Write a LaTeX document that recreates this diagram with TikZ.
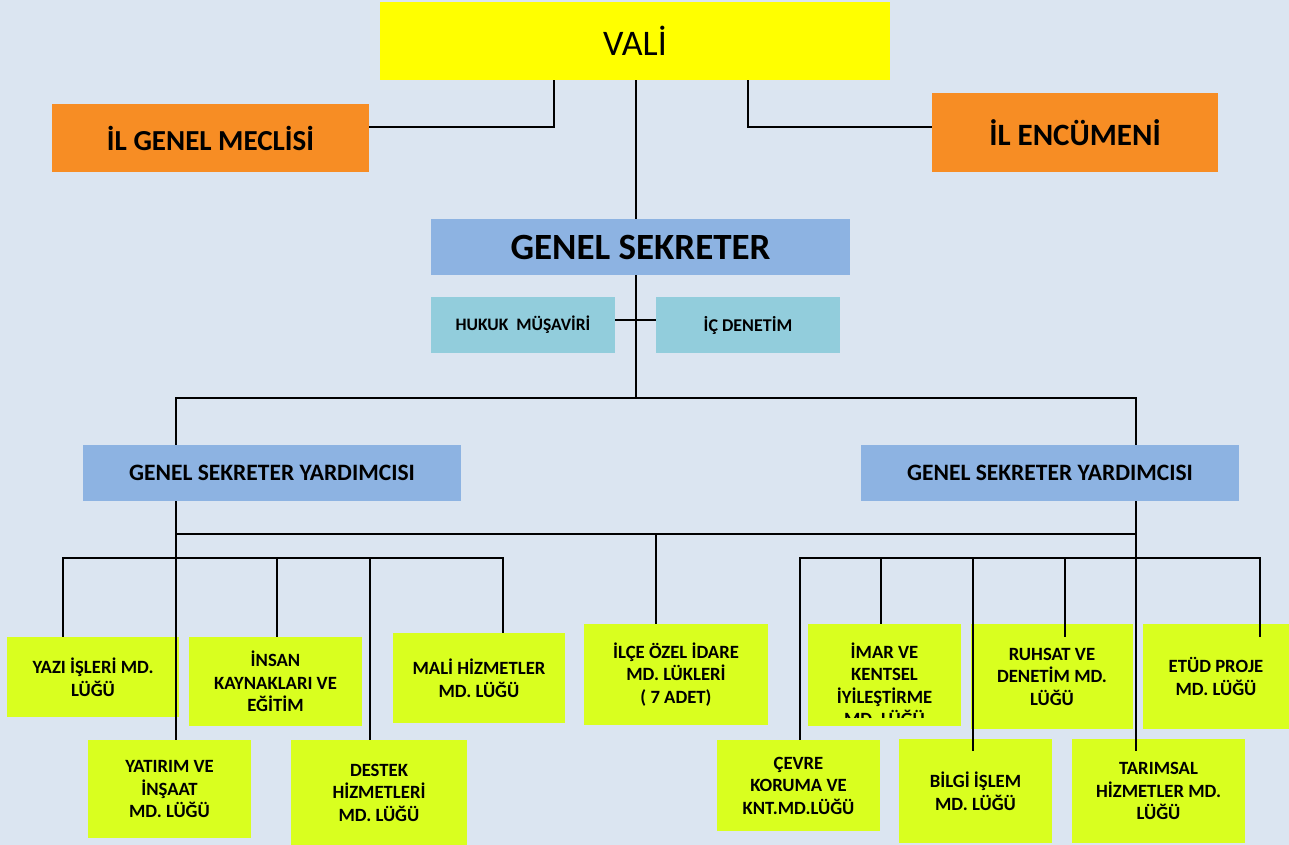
\documentclass[tikz,border=0pt]{standalone}
\usepackage{fontspec}
\setmainfont{Carlito}
\definecolor{bgc}{HTML}{DBE5F1}
\definecolor{yel}{HTML}{FFFF00}
\definecolor{ora}{HTML}{F78D24}
\definecolor{blu}{HTML}{8DB3E2}
\definecolor{aqu}{HTML}{92CDDC}
\definecolor{lim}{HTML}{D9FF1F}
\begin{document}
\begin{tikzpicture}[x=1pt,y=-1pt,
  box/.style={inner sep=0pt, align=center, text=black},
  gbox/.style={box, fill=lim, font=\bfseries\fontsize{18.7}{22.5}\selectfont},
  conn/.style={draw=black, line width=2pt}]
\useasboundingbox (0,0) rectangle (1289,845);
\fill[bgc] (0,0) rectangle (1289,845);
% top level
\node[box, fill=yel, minimum width=510pt, minimum height=78pt, font=\fontsize{36}{40}\selectfont] (vali) at (635,41) {VALİ};
\node[box, fill=ora, minimum width=317pt, minimum height=68pt, font=\bfseries\fontsize{29}{32}\selectfont] (meclis) at (210.5,138) {İL GENEL MECLİSİ};
\node[box, fill=ora, minimum width=286pt, minimum height=79pt, font=\bfseries\fontsize{31}{34}\selectfont] (encumen) at (1075,132.5) {İL ENCÜMENİ};
\node[box, fill=blu, minimum width=419pt, minimum height=56pt, font=\bfseries\fontsize{37}{40}\selectfont] (gs) at (640.5,247) {GENEL SEKRETER};
\node[box, fill=aqu, minimum width=184pt, minimum height=56pt, font=\bfseries\fontsize{17.5}{20}\selectfont] (hukuk) at (523,325) {HUKUK~ MÜŞAVİRİ};
\node[box, fill=aqu, minimum width=184pt, minimum height=56pt, font=\bfseries\fontsize{18}{20}\selectfont] (icden) at (748,325) {İÇ DENETİM};
\node[box, fill=blu, minimum width=378pt, minimum height=56pt, font=\bfseries\fontsize{23.5}{26}\selectfont] (gsy1) at (272,473) {GENEL SEKRETER YARDIMCISI};
\node[box, fill=blu, minimum width=378pt, minimum height=56pt, font=\bfseries\fontsize{23.5}{26}\selectfont] (gsy2) at (1050,473) {GENEL SEKRETER YARDIMCISI};
% left units
\node[gbox, minimum width=172pt, minimum height=80pt] (yazi) at (93,677) {YAZI İŞLERİ MD.\\LÜĞÜ};
\node[gbox, minimum width=173pt, minimum height=89pt] (insan) at (275.5,681.5) {İNSAN\\KAYNAKLARI VE\\EĞİTİM};
\node[gbox, minimum width=172pt, minimum height=90pt] (mali) at (479,678) {MALİ HİZMETLER\\MD. LÜĞÜ};
\node[gbox, minimum width=163pt, minimum height=98pt] (yatirim) at (169.5,789) {YATIRIM VE\\İNŞAAT\\MD. LÜĞÜ};
\node[gbox, minimum width=176pt, minimum height=105pt] (destek) at (379,792.5) {DESTEK\\HİZMETLERİ\\MD. LÜĞÜ};
% middle
\node[gbox, minimum width=184pt, minimum height=101pt] (ilce) at (676,674.5) {İLÇE ÖZEL İDARE\\MD. LÜKLERİ\\( 7 ADET)};
% right units
\node[gbox, minimum width=153pt, minimum height=102pt] (imar) at (884.5,675) {};
\begin{scope}
\clip (808,624) rectangle (961,717);
\node[gbox, fill=none] (imartext) at (884.5,684) {İMAR VE\\KENTSEL\\İYİLEŞTİRME\\MD. LÜĞÜ};
\end{scope}
\node[gbox, minimum width=162pt, minimum height=105pt] (ruhsat) at (1052,676.5) {RUHSAT VE\\DENETİM MD.\\LÜĞÜ};
\node[gbox, minimum width=146pt, minimum height=105pt] (etud) at (1216,676.5) {ETÜD PROJE\\MD. LÜĞÜ};
\node[gbox, minimum width=163pt, minimum height=91pt] (cevre) at (798.5,785.5) {ÇEVRE\\KORUMA VE\\KNT.MD.LÜĞÜ};
\node[gbox, minimum width=153pt, minimum height=104pt] (bilgi) at (975.5,791) {BİLGİ İŞLEM\\MD. LÜĞÜ};
\node[gbox, minimum width=173pt, minimum height=104pt] (tarim) at (1158.5,791) {TARIMSAL\\HİZMETLER MD.\\LÜĞÜ};
% connectors
\coordinate (m1) at (554,127);
\coordinate (e1) at (748,127);
\coordinate (c0) at (636,0);
\coordinate (hk) at (0,320);
\coordinate (b1l) at (176,398);
\coordinate (b1r) at (1136,398);
\coordinate (b2) at (0,534);
\coordinate (c1) at (656,0);
\coordinate (xa) at (63,558);
\coordinate (xb) at (277,558);
\coordinate (xc) at (370,558);
\coordinate (xd) at (503,558);
\coordinate (ya) at (800,558);
\coordinate (yb) at (881,558);
\coordinate (yc) at (973,558);
\coordinate (yd) at (1065,558);
\coordinate (ye) at (1260,558);
\coordinate (tc) at (1136,751);
\coordinate (bc) at (973,751);
\coordinate (rc) at (1065,637);
\coordinate (ec) at (1260,637);
\draw[conn] (vali.south -| m1) |- (meclis.east |- m1);
\draw[conn] (vali.south -| e1) |- (encumen.west |- e1);
\draw[conn] (vali.south -| c0) -- (gs.north -| c0);
\draw[conn] (gs.south -| c0) -- (b1l -| c0);
\draw[conn] (hukuk.east |- hk) -- (icden.west |- hk);
\draw[conn] (gsy1.north -| b1l) |- (b1r) -- (gsy2.north -| b1r);
\draw[conn] (gsy1.south -| b1l) -- (yatirim.north -| b1l);
\draw[conn] (gsy2.south -| b1r) -- (tc);
\draw[conn] (b2 -| b1l) -- (b2 -| b1r);
\draw[conn] (b2 -| c1) -- (ilce.north -| c1);
\draw[conn] (yazi.north -| xa) -- (xa) -- (xd) -- (mali.north -| xd);
\draw[conn] (xb) -- (insan.north -| xb);
\draw[conn] (xc) -- (destek.north -| xc);
\draw[conn] (cevre.north -| ya) -- (ya) -- (ye) -- (ec);
\draw[conn] (yb) -- (imar.north -| yb);
\draw[conn] (yc) -- (bc);
\draw[conn] (yd) -- (rc);
\end{tikzpicture}
\end{document}
